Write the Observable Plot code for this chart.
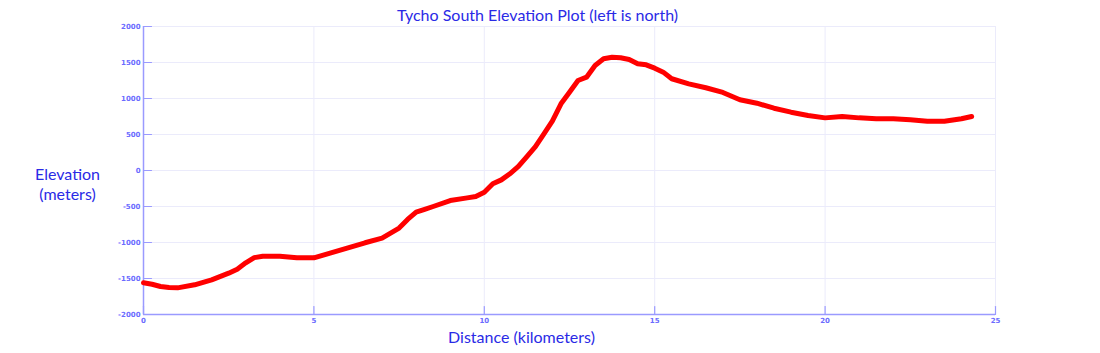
<!DOCTYPE html>
<html>
<head>
<meta charset="utf-8">
<script src="https://cdn.jsdelivr.net/npm/d3@7"></script>
<script src="https://cdn.jsdelivr.net/npm/@observablehq/plot@0.6"></script>
<style>
  html, body { margin: 0; padding: 0; background: #fff; }
  #chart svg { display: block; }
</style>
</head>
<body>
<div id="chart"></div>
<script>
const titleText = "Tycho South Elevation Plot (left is north)";
const xLabel = "Distance (kilometers)";
const yLabel = "Elevation\n(meters)";

const distanceKm = [0, 0.25, 0.5, 0.75, 1.0, 1.5, 2.0, 2.5, 2.75, 3.0, 3.25, 3.5, 4.0, 4.5, 5.0, 5.5, 6.0, 6.5, 7.0, 7.5, 7.75, 8.0, 8.25, 8.5, 9.0, 9.5, 9.75, 10.0, 10.25, 10.5, 10.75, 11.0, 11.25, 11.5, 11.75, 12.0, 12.25, 12.5, 12.75, 13.0, 13.25, 13.5, 13.75, 14.0, 14.25, 14.5, 14.75, 15.0, 15.25, 15.5, 16.0, 16.5, 17.0, 17.5, 18.0, 18.5, 19.0, 19.5, 20.0, 20.5, 21.0, 21.5, 22.0, 22.5, 23.0, 23.5, 24.0, 24.3];
const elevationM = [-1560, -1580, -1611, -1625, -1630, -1588, -1518, -1426, -1370, -1282, -1210, -1190, -1190, -1213, -1213, -1143, -1074, -1004, -940, -800, -680, -579, -540, -500, -417, -380, -361, -301, -185, -130, -46, 56, 194, 333, 509, 690, 926, 1088, 1250, 1296, 1458, 1551, 1574, 1565, 1542, 1482, 1468, 1421, 1366, 1274, 1204, 1149, 1084, 982, 935, 865, 810, 764, 731, 750, 731, 718, 718, 704, 685, 685, 718, 750];

const xTicks = [0, 5, 10, 15, 20, 25];
const yTicks = [-2000, -1500, -1000, -500, 0, 500, 1000, 1500, 2000];

const profile = distanceKm.map((d, i) => ({distance: d, elevation: elevationM[i]}));

const axisColor = "#9a9aff";
const tickTextColor = "#6b6bff";
const gridColor = "#ebebfb";
const labelColor = "#2a2ae6";
const labelFont = "Lato, 'Open Sans', sans-serif";

const tickShape = {draw(context, l) { context.moveTo(0, 0); context.lineTo(0, -l); }};

const chart = Plot.plot({
  width: 1100,
  height: 353,
  marginLeft: 143,
  marginRight: 105,
  marginTop: 26,
  marginBottom: 39,
  style: {background: "#fff", fontFamily: "'DejaVu Sans', sans-serif"},
  x: {domain: [0, 25], ticks: xTicks},
  y: {domain: [-2000, 2000], ticks: yTicks},
  marks: [
    Plot.gridX(xTicks, {stroke: gridColor, strokeOpacity: 1}),
    Plot.gridY(yTicks, {stroke: gridColor, strokeOpacity: 1}),
    Plot.ruleX([0], {stroke: axisColor, strokeWidth: 1.5}),
    Plot.ruleY([-2000], {stroke: axisColor, strokeWidth: 1.5}),
    Plot.vector(yTicks, {y: d => d, frameAnchor: "left", length: 8, rotate: 90, anchor: "start", shape: tickShape, stroke: axisColor, strokeWidth: 1.2}),
    Plot.vector(xTicks, {x: d => d, frameAnchor: "bottom", length: 8, rotate: 0, anchor: "start", shape: tickShape, stroke: axisColor, strokeWidth: 1.2}),
    Plot.axisY(yTicks, {anchor: "left", tickSize: 0, tickPadding: 3, tickFormat: d => String(d), fill: tickTextColor, fontSize: 7, fontWeight: "bold", label: null}),
    Plot.axisX(xTicks, {anchor: "bottom", tickSize: 0, tickPadding: 4, tickFormat: d => String(d), fill: tickTextColor, fontSize: 7, fontWeight: "bold", label: null}),
    Plot.line(profile, {x: "distance", y: "elevation", stroke: "#ff0000", strokeWidth: 5, strokeLinejoin: "round", strokeLinecap: "round"}),
    Plot.text([titleText], {frameAnchor: "top", lineAnchor: "middle", dx: -32, dy: -11, fill: labelColor, fontSize: 16, fontFamily: labelFont}),
    Plot.text([yLabel], {frameAnchor: "left", lineAnchor: "middle", dx: -76, dy: 13, fill: labelColor, fontSize: 16, lineHeight: 1.25, textAnchor: "middle", fontFamily: labelFont}),
    Plot.text([xLabel], {frameAnchor: "bottom", lineAnchor: "middle", dx: -48, dy: 23, fill: labelColor, fontSize: 16, fontFamily: labelFont})
  ]
});
document.getElementById("chart").appendChild(chart);
</script>
</body>
</html>
